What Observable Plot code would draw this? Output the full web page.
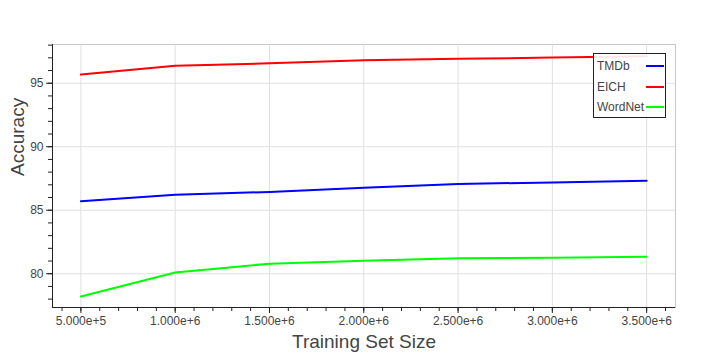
<!DOCTYPE html>
<html>
<head>
<meta charset="utf-8">
<script src="https://cdn.jsdelivr.net/npm/d3@7"></script>
<script src="https://cdn.jsdelivr.net/npm/@observablehq/plot@0.6"></script>
<style>
  html, body { margin: 0; padding: 0; background: #fff; }
  #wrap { position: relative; width: 719px; height: 359px; font-family: "Liberation Sans", Arial, Helvetica, sans-serif; }
  #legend { position: absolute; left: 593px; top: 53px; width: 71px; height: 63px;
            border: 1px solid #222; background: rgba(255,255,255,0.9); }
  .row { position: absolute; left: 3px; font-size: 12px; color: #444; line-height: 14px; }
  .sw { position: absolute; left: 52px; width: 18px; height: 0; border-top: 2px solid; }
</style>
</head>
<body>
<div id="wrap"></div>
<script>
const trainingSizes = [500000, 1000000, 1500000, 2000000, 2500000, 3000000, 3500000];
const seriesNames = ["TMDb", "EICH", "WordNet"];
const seriesColors = ["#0000ff", "#ff0000", "#00ff00"];
const tmdbValues = [85.71, 86.21, 86.44, 86.76, 87.07, 87.19, 87.33];
const eichValues = [95.68, 96.38, 96.57, 96.81, 96.92, 97.02, 97.13];
const wordnetValues = [78.21, 80.10, 80.79, 81.03, 81.21, 81.26, 81.34];
const xTicks = [500000, 1000000, 1500000, 2000000, 2500000, 3000000, 3500000];
const xTickLabels = ["5.000e+5", "1.000e+6", "1.500e+6", "2.000e+6", "2.500e+6", "3.000e+6", "3.500e+6"];
const yTicks = [80, 85, 90, 95];
const xLabel = "Training Set Size";
const yLabel = "Accuracy";

const allValues = [tmdbValues, eichValues, wordnetValues];
const data = [];
seriesNames.forEach((name, i) => {
  trainingSizes.forEach((x, j) => data.push({series: name, x, y: allValues[i][j]}));
});

const xMinor = d3.range(400000, 3650001, 100000);
const yMinor = d3.range(78, 99, 1);
const font = "\"Liberation Sans\", Arial, Helvetica, sans-serif";

const chart = Plot.plot({
  width: 719,
  height: 359,
  marginLeft: 52,
  marginRight: 44,
  marginTop: 44,
  marginBottom: 52,
  style: {fontFamily: font, color: "#444", background: "#fff", overflow: "visible"},
  x: {domain: [349400, 3653000], label: null},
  y: {domain: [77.34, 98.05], label: null},
  color: {domain: seriesNames, range: seriesColors},
  marks: [
    Plot.frame({stroke: "#c8c8c8", strokeWidth: 1}),
    Plot.gridX(xTicks, {stroke: "#e0e0e0", strokeOpacity: 1, strokeWidth: 1}),
    Plot.gridY(yTicks, {stroke: "#e0e0e0", strokeOpacity: 1, strokeWidth: 1}),
    Plot.lineY(data, {x: "x", y: "y", z: "series", stroke: "series", strokeWidth: 2}),
    Plot.axisX(xMinor, {tickSize: 4, tickFormat: () => "", stroke: "#222", label: null}),
    Plot.axisX(xTicks, {tickSize: 6, tickPadding: 3, fontSize: 12, fill: "#444", stroke: "#222",
      tickFormat: (d) => xTickLabels[xTicks.indexOf(d)], label: null}),
    Plot.axisY(yMinor, {tickSize: 4, tickFormat: () => "", stroke: "#222", label: null}),
    Plot.axisY(yTicks, {tickSize: 6, tickPadding: 3, fontSize: 12, fill: "#444", stroke: "#222",
      tickFormat: (d) => String(d), label: null}),
    Plot.ruleX([349400], {stroke: "#222", strokeWidth: 1}),
    Plot.ruleY([77.34], {stroke: "#222", strokeWidth: 1}),
    Plot.text([xLabel], {frameAnchor: "bottom", dy: 40, fontSize: 19, fill: "#444", text: (d) => d}),
    Plot.text([yLabel], {frameAnchor: "left", dx: -35, rotate: -90, fontSize: 19, fill: "#444", text: (d) => d})
  ]
});
const wrap = document.getElementById("wrap");
wrap.appendChild(chart);

const legend = document.createElement("div");
legend.id = "legend";
const rowTops = [5, 26, 46];
seriesNames.forEach((name, i) => {
  const r = document.createElement("div");
  r.className = "row";
  r.style.top = rowTops[i] + "px";
  r.textContent = name;
  legend.appendChild(r);
  const s = document.createElement("div");
  s.className = "sw";
  s.style.top = (rowTops[i] + 6) + "px";
  s.style.borderTopColor = seriesColors[i];
  legend.appendChild(s);
});
wrap.appendChild(legend);
</script>
</body>
</html>
